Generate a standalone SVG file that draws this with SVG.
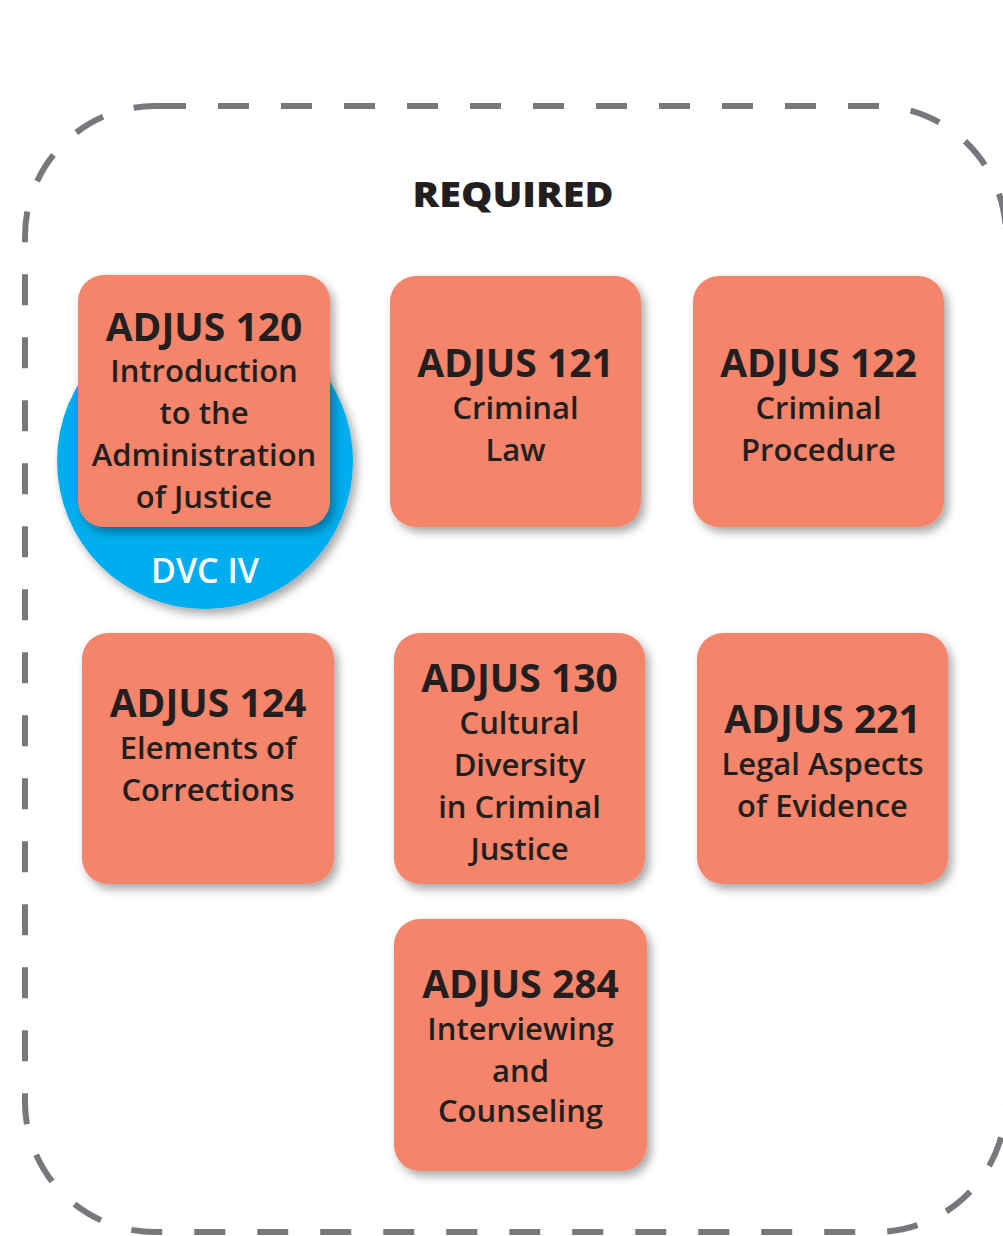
<svg xmlns="http://www.w3.org/2000/svg" width="1003" height="1236" viewBox="0 0 1003 1236">
<defs>
<filter id="sh" x="-20%" y="-20%" width="150%" height="150%">
<feDropShadow dx="4" dy="5" stdDeviation="5" flood-color="#000" flood-opacity="0.35"/>
</filter>
</defs>
<style>
.box{fill:#F4846A;filter:url(#sh)}
.t{font-family:"Open Sans","Noto Sans",sans-serif;fill:#231F20;text-anchor:middle}
.h{font-weight:700;font-size:39px}
.d{font-weight:600;font-size:31px}
.frame{fill:none;stroke:#77787B;stroke-width:6;stroke-dasharray:31 32}
</style>
<rect width="1003" height="1236" fill="#fff"/>
<g id="frame">
<path class="frame" d="M155,106 H876 A130,130 0 0 1 1006,236 V1102 A130,130 0 0 1 876,1232 H155 A130,130 0 0 1 25,1102 V236 A130,130 0 0 1 155,106 Z"/>
</g>
<g id="title">
<text class="t" x="513" y="207" font-weight="800" font-size="36" textLength="201" lengthAdjust="spacingAndGlyphs">REQUIRED</text>
</g>
<g id="dvc">
<circle cx="205" cy="461" r="148" fill="#00AEEF" filter="url(#sh)"/>
<text x="205" y="583" font-family="'Open Sans','Noto Sans',sans-serif" font-weight="600" font-size="34" fill="#fff" text-anchor="middle">DVC IV</text>
</g>
<g id="adjus120">
<rect class="box" x="78" y="275" width="252" height="252" rx="26"/>
<text class="t h" x="204" y="341">ADJUS 120</text>
<text class="t d" x="204" y="382">Introduction</text>
<text class="t d" x="204" y="424">to the</text>
<text class="t d" x="204" y="466">Administration</text>
<text class="t d" x="204" y="508">of Justice</text>
</g>
<g id="adjus121">
<rect class="box" x="390" y="276" width="251" height="251" rx="26"/>
<text class="t h" x="515.5" y="377">ADJUS 121</text>
<text class="t d" x="515.5" y="419">Criminal</text>
<text class="t d" x="515.5" y="461">Law</text>
</g>
<g id="adjus122">
<rect class="box" x="693" y="276" width="251" height="251" rx="26"/>
<text class="t h" x="818.5" y="377">ADJUS 122</text>
<text class="t d" x="818.5" y="419">Criminal</text>
<text class="t d" x="818.5" y="461">Procedure</text>
</g>
<g id="adjus124">
<rect class="box" x="82" y="633" width="252" height="251" rx="26"/>
<text class="t h" x="208" y="717">ADJUS 124</text>
<text class="t d" x="208" y="759">Elements of</text>
<text class="t d" x="208" y="801">Corrections</text>
</g>
<g id="adjus130">
<rect class="box" x="394" y="633" width="251" height="251" rx="26"/>
<text class="t h" x="519.5" y="692">ADJUS 130</text>
<text class="t d" x="519.5" y="734">Cultural</text>
<text class="t d" x="519.5" y="776">Diversity</text>
<text class="t d" x="519.5" y="818">in Criminal</text>
<text class="t d" x="519.5" y="860">Justice</text>
</g>
<g id="adjus221">
<rect class="box" x="697" y="633" width="251" height="251" rx="26"/>
<text class="t h" x="822.5" y="733">ADJUS 221</text>
<text class="t d" x="822.5" y="775">Legal Aspects</text>
<text class="t d" x="822.5" y="817">of Evidence</text>
</g>
<g id="adjus284">
<rect class="box" x="394" y="919" width="253" height="252" rx="26"/>
<text class="t h" x="520.5" y="998">ADJUS 284</text>
<text class="t d" x="520.5" y="1040">Interviewing</text>
<text class="t d" x="520.5" y="1082">and</text>
<text class="t d" x="520.5" y="1122">Counseling</text>
</g>
<g id="connectors"></g>
</svg>
